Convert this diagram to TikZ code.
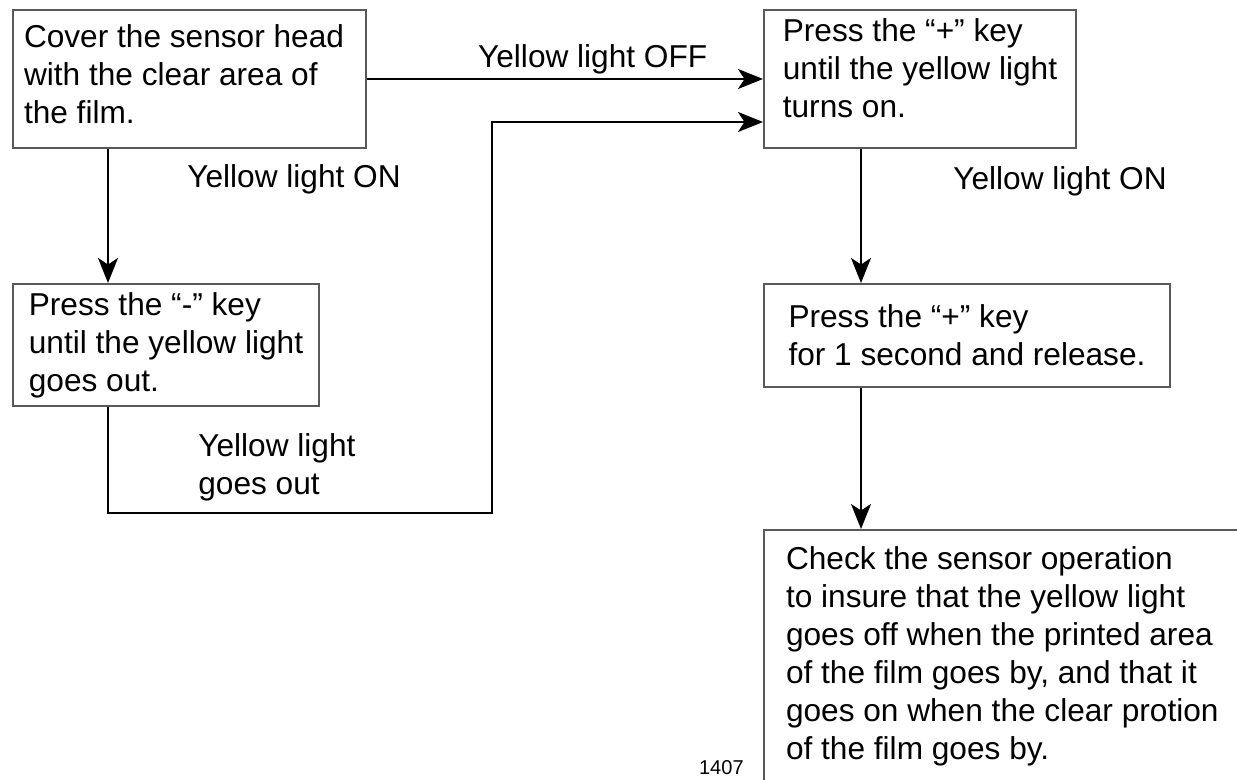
\documentclass[tikz,border=0pt]{standalone}
\usepackage{fontspec}
\setmainfont{Liberation Sans}
\usetikzlibrary{positioning,arrows.meta}

\begin{document}
\begin{tikzpicture}[
    box/.style={rectangle, draw=black!65, line width=0.04cm,
                align=flush left, font=\fontsize{18}{21.6}\selectfont},
    lbl/.style={inner sep=0pt, align=left, font=\fontsize{18}{21.6}\selectfont},
    arrow/.style={-{Stealth[length=0.5cm, width=0.4cm, inset=0.13cm]}, line width=0.04cm}
]
    \useasboundingbox (0,0) rectangle (24.74,-15.6);
    \clip (0,0) rectangle (24.74,-15.6);

    \node[box, anchor=north west, text width=6.62cm, inner xsep=0.22cm,
          minimum width=7.06cm, minimum height=2.76cm] (cover) at (0.24,-0.18)
        {Cover the sensor head\\with the clear area of\\the film.\rule[-0.2cm]{0pt}{0pt}};
    \node[box, below=2.68cm of cover.south west, anchor=north west,
          minimum width=6.12cm, minimum height=2.44cm] (minus)
        {Press the “-” key\\until the yellow light\\goes out.};
    \node[box, right=7.92cm of cover.north east, anchor=north west,
          minimum width=6.24cm, minimum height=2.76cm] (plus)
        {Press the “+” key\\until the yellow light\\turns on.\rule[-0.44cm]{0pt}{0pt}};
    \node[box, below=2.68cm of plus.south west, anchor=north west,
          minimum width=8.12cm, minimum height=2.06cm] (hold)
        {Press the “+” key\\for 1 second and release.};
    \node[box, below=2.82cm of hold.south west, anchor=north west,
          text width=10cm, inner xsep=0.44cm, inner ysep=0.34cm] (check)
        {Check the sensor operation\\to insure that the yellow light\\goes off when the printed area\\of the film goes by, and that it\\goes on when the clear protion\\of the film goes by.\rule[-0.8cm]{0pt}{0.8cm}};

    % columns of the vertical connectors
    \coordinate (colL) at (2.16,0);
    \coordinate (colR) at (17.22,0);
    \coordinate (turn) at (9.84,-10.26);

    \draw[arrow] (cover) -- node[lbl, above=0.08cm, pos=0.57] (offlbl) {Yellow light OFF} (plus);
    \draw[arrow] (cover.south -| colL) -- (minus.north -| colL);
    \draw[arrow] (minus.south -| colL) |- (turn) |- ([yshift=-0.86cm]plus.west);
    \draw[arrow] (plus.south -| colR) -- (hold.north -| colR);
    \draw[arrow] (hold.south -| colR) -- (check.north -| colR);

    \node[lbl, below right=0.3cm and 3.5cm of cover.south west] (onlblL) {Yellow light ON};
    \node[lbl, below right=0.34cm and 3.8cm of plus.south west] (onlblR) {Yellow light ON};
    \node[lbl, below right=0.52cm and 3.72cm of minus.south west] (outlbl) {Yellow light\\goes out};
    \node[inner sep=0pt, font=\fontsize{11.4}{13}\selectfont,
          below left=4.9cm and 0.38cm of check.north west, anchor=base east] (fig) {1407};
\end{tikzpicture}
\end{document}
